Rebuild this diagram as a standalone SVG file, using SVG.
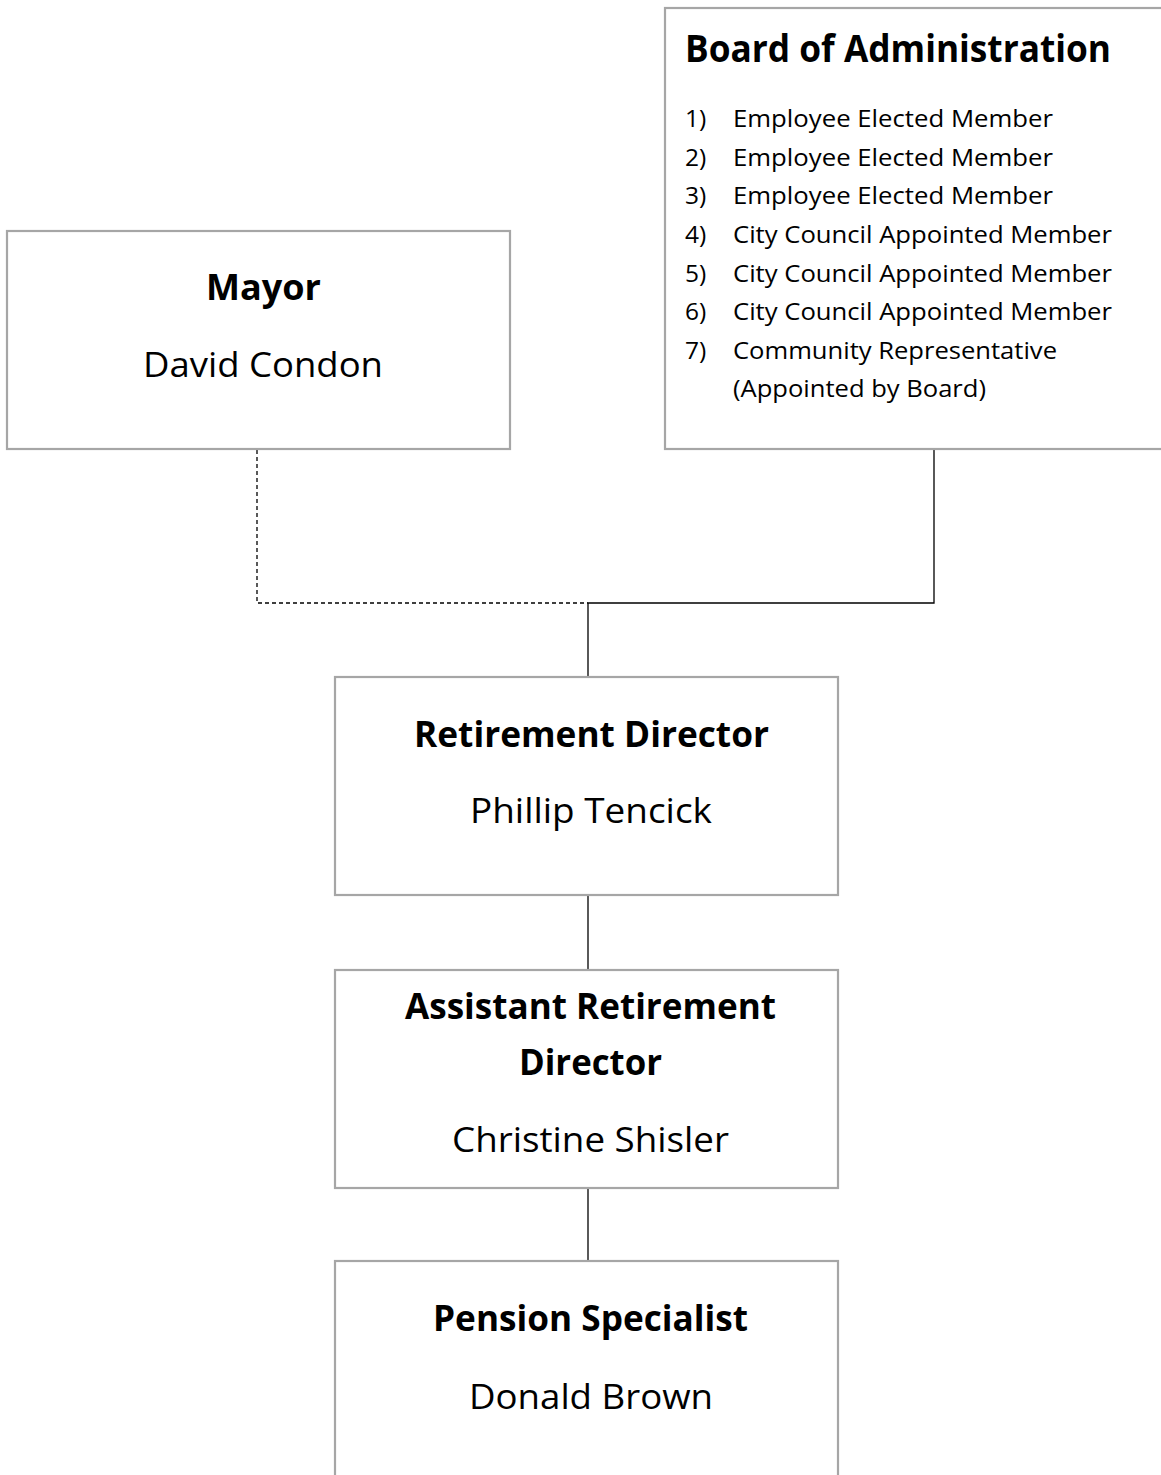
<svg xmlns="http://www.w3.org/2000/svg" width="1161" height="1475" viewBox="0 0 1161 1475">
<style>
.box{fill:#fff;stroke:#a6a6a6;stroke-width:2.2}
.t{font-family:"Open Sans","Noto Sans","Liberation Sans",sans-serif;fill:#000}
.h{font-weight:bold;font-size:35px}
.n{font-size:34px}
.bt{font-weight:bold;font-size:38px}
.li{font-size:24.5px}
.c{fill:none;stroke:#000;stroke-width:1.3}
.d{fill:none;stroke:#000;stroke-width:1.3;stroke-dasharray:4 3}
</style>
<rect width="1161" height="1475" fill="#fff"/>
<g id="connectors">
<path class="d" d="M257 450 V603 H588"/>
<path class="c" d="M934 450 V603 H588 V677"/>
<path class="c" d="M588 895 V970"/>
<path class="c" d="M588 1188 V1261"/>
</g>
<g id="board">
<rect class="box" x="665" y="8" width="520" height="441"/>
<text class="t bt" x="685" y="62" textLength="426" lengthAdjust="spacingAndGlyphs">Board of Administration</text>
<g class="t li">
<text x="685" y="127">1)</text><text x="733" y="127" textLength="320" lengthAdjust="spacingAndGlyphs">Employee Elected Member</text>
<text x="685" y="166">2)</text><text x="733" y="166" textLength="320" lengthAdjust="spacingAndGlyphs">Employee Elected Member</text>
<text x="685" y="204">3)</text><text x="733" y="204" textLength="320" lengthAdjust="spacingAndGlyphs">Employee Elected Member</text>
<text x="685" y="243">4)</text><text x="733" y="243" textLength="379" lengthAdjust="spacingAndGlyphs">City Council Appointed Member</text>
<text x="685" y="282">5)</text><text x="733" y="282" textLength="379" lengthAdjust="spacingAndGlyphs">City Council Appointed Member</text>
<text x="685" y="320">6)</text><text x="733" y="320" textLength="379" lengthAdjust="spacingAndGlyphs">City Council Appointed Member</text>
<text x="685" y="359">7)</text><text x="733" y="359" textLength="324" lengthAdjust="spacingAndGlyphs">Community Representative</text>
<text x="733" y="397" textLength="253" lengthAdjust="spacingAndGlyphs">(Appointed by Board)</text>
</g>
</g>
<g id="mayor">
<rect class="box" x="7" y="231" width="503" height="218"/>
<text class="t h" x="206" y="300" textLength="115" lengthAdjust="spacingAndGlyphs">Mayor</text>
<text class="t n" x="143" y="377" textLength="240" lengthAdjust="spacingAndGlyphs">David Condon</text>
</g>
<g id="director">
<rect class="box" x="335" y="677" width="503" height="218"/>
<text class="t h" x="414" y="747" textLength="355" lengthAdjust="spacingAndGlyphs">Retirement Director</text>
<text class="t n" x="470" y="823" textLength="242" lengthAdjust="spacingAndGlyphs">Phillip Tencick</text>
</g>
<g id="assistant">
<rect class="box" x="335" y="970" width="503" height="218"/>
<text class="t h" x="405" y="1019" textLength="371" lengthAdjust="spacingAndGlyphs">Assistant Retirement</text>
<text class="t h" x="519" y="1075" textLength="143" lengthAdjust="spacingAndGlyphs">Director</text>
<text class="t n" x="452" y="1152" textLength="277" lengthAdjust="spacingAndGlyphs">Christine Shisler</text>
</g>
<g id="pension">
<rect class="box" x="335" y="1261" width="503" height="260"/>
<text class="t h" x="433" y="1331" textLength="315" lengthAdjust="spacingAndGlyphs">Pension Specialist</text>
<text class="t n" x="469" y="1409" textLength="244" lengthAdjust="spacingAndGlyphs">Donald Brown</text>
</g>
</svg>
